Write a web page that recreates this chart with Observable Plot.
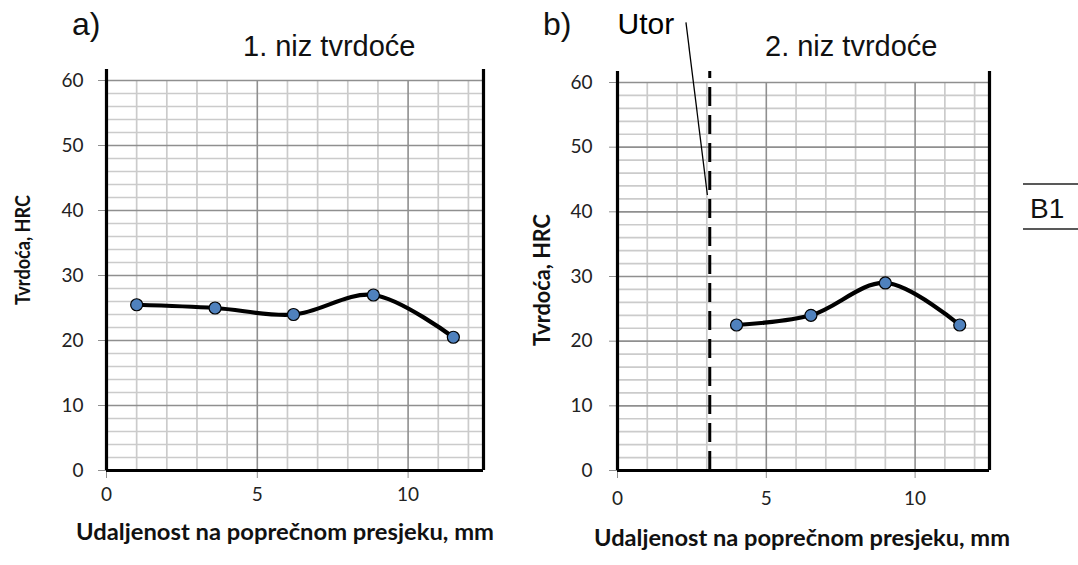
<!DOCTYPE html>
<html><head><meta charset="utf-8">
<script src="https://cdn.jsdelivr.net/npm/d3@7"></script>
<script src="https://cdn.jsdelivr.net/npm/@observablehq/plot@0.6"></script>
<style>
body{margin:0;background:#fff;}
#wrap{position:relative;width:1078px;height:565px;overflow:hidden;background:#fff;}
#wrap > svg{position:absolute;top:0;}
#wrap svg g[aria-label$="tick label"]{font-size:19px;font-family:Lato,sans-serif;}
</style></head><body><div id="wrap"></div>
<script>
// ---- data ----
const dist1 = [1.0, 3.6, 6.2, 8.85, 11.5];
const hrc1  = [25.5, 25.0, 24.0, 27.0, 20.5];
const dist2 = [4.0, 6.5, 9.0, 11.5];
const hrc2  = [22.5, 24.0, 29.0, 22.5];
const xTicks = [0, 5, 10];
const yTicks = [0, 10, 20, 30, 40, 50, 60];
const xMinorGrid = [1, 2, 3, 4, 6, 7, 8, 9, 11, 12];
const xMajorGrid = [5, 10];
const yMinorGrid = [2, 4, 6, 8, 12, 14, 16, 18, 22, 24, 26, 28, 32, 34, 36, 38, 42, 44, 46, 48, 52, 54, 56, 58];
const yMajorGrid = [10, 20, 30, 40, 50, 60];
const xDomain = [0, 12.5];
const yDomain = [0, 60];
const frameEdges = [0, 12.5];
const frameTop = 61.7;
const groove = [3.1];                 // "Utor" position, mm
const utorNote = [{x: 0.0, y: 67.5, text: "Utor"}];
const utorLeader = [{x1: 2.3, y1: 69.3, x2: 3.02, y2: 42.6}];
const xLabel = "Udaljenost na poprečnom presjeku, mm";
const yLabel = "Tvrdoća, HRC";

const wrap = document.getElementById("wrap");

function chart(o) {
  const pts = o.xs.map((x, i) => ({x, y: o.ys[i]}));
  const marks = [
    Plot.ruleX(xMinorGrid, {stroke: "#cbcbcb", strokeWidth: 1.7}),
    Plot.ruleY(yMinorGrid, {stroke: "#cbcbcb", strokeWidth: 1.7}),
    Plot.ruleX(xMajorGrid, {stroke: "#8f8f8f", strokeWidth: 1.6}),
    Plot.ruleY(yMajorGrid, {stroke: "#8f8f8f", strokeWidth: 1.6}),
    Plot.axisX(xTicks, {tickSize: 8, tickPadding: o.xPad, stroke: "#8f8f8f", fill: "#222", fontSize: 19, label: null}),
    Plot.axisY(yTicks, {tickSize: 8, tickPadding: o.yPad, stroke: "#8f8f8f", fill: "#222", fontSize: 19, label: null})
  ];
  if (o.groove) {
    marks.push(Plot.ruleX(o.groove, {y1: 0, y2: frameTop, stroke: "black", strokeWidth: 3, strokeDasharray: "19,9"}));
    marks.push(Plot.link(utorLeader, {x1: "x1", y1: "y1", x2: "x2", y2: "y2", stroke: "black", strokeWidth: 1.3}));
    marks.push(Plot.text(utorNote, {x: "x", y: "y", text: "text", textAnchor: "start", lineAnchor: "bottom", fontSize: 30, fontFamily: "Liberation Sans, Arial, sans-serif", fill: "black"}));
  }
  marks.push(
    Plot.ruleX(frameEdges, {y1: 0, y2: frameTop, stroke: "black", strokeWidth: 3.2}),
    Plot.ruleY([0], {stroke: "black", strokeWidth: 3.2}),
    Plot.line(pts, {x: "x", y: "y", curve: "catmull-rom", stroke: "black", strokeWidth: 4.2}),
    Plot.dot(pts, {x: "x", y: "y", r: 6, fill: "#4f81bd", stroke: "black", strokeWidth: 1.2})
  );
  const svg = Plot.plot({
    width: o.width, height: 565,
    marginLeft: o.ml, marginRight: o.mr, marginTop: o.mt, marginBottom: o.mb,
    x: {domain: xDomain},
    y: {domain: yDomain},
    style: {fontFamily: "Lato, sans-serif", fontSize: "19px", background: "transparent", overflow: "visible"},
    marks
  });
  svg.style.left = o.left + "px";
  wrap.appendChild(svg);
}

chart({xs: dist1, ys: hrc1, width: 540, left: 0, ml: 106, mr: 57, mt: 80, mb: 95, xPad: 9, yPad: 15});
chart({xs: dist2, ys: hrc2, width: 568, left: 510, ml: 107, mr: 89, mt: 82, mb: 95, xPad: 13, yPad: 17, groove});

// ---- titles and axis titles ----
const ov = d3.select(wrap).append("svg")
  .attr("width", 1078).attr("height", 565)
  .style("left", "0px").style("pointer-events", "none");
const arial = "Liberation Sans, Arial, sans-serif";
const lato = "Lato, sans-serif";
function t(x, y, s, size, fam, opts = {}) {
  const e = ov.append("text").attr("x", x).attr("y", y).text(s)
    .attr("font-size", size).attr("font-family", fam).attr("fill", opts.fill || "#111");
  if (opts.anchor) e.attr("text-anchor", opts.anchor);
  if (opts.bold) e.attr("font-weight", "bold");
  if (opts.len) e.attr("textLength", opts.len).attr("lengthAdjust", "spacingAndGlyphs");
  if (opts.rot) e.attr("transform", `rotate(-90 ${x} ${y})`);
  return e;
}
t(72, 35, "a)", 32, arial);
t(243, 56, "1. niz tvrdoće", 29, arial);
t(543, 35, "b)", 32, arial);
t(765, 56, "2. niz tvrdoće", 29, arial);
t(285, 540, xLabel, 22, lato, {anchor: "middle", bold: true, len: 418});
t(802, 546, xLabel, 22, lato, {anchor: "middle", bold: true, len: 416});
t(30, 250, yLabel, 21, lato, {anchor: "middle", bold: true, len: 110, rot: true});
t(550, 280, yLabel, 23, lato, {anchor: "middle", bold: true, len: 132, rot: true});
// B1 tag
ov.append("line").attr("x1", 1023).attr("x2", 1078).attr("y1", 184).attr("y2", 184).attr("stroke", "#222").attr("stroke-width", 1.5);
ov.append("line").attr("x1", 1023).attr("x2", 1078).attr("y1", 229).attr("y2", 229).attr("stroke", "#222").attr("stroke-width", 1.5);
t(1030, 218, "B1", 28, arial);
</script>
</body></html>
